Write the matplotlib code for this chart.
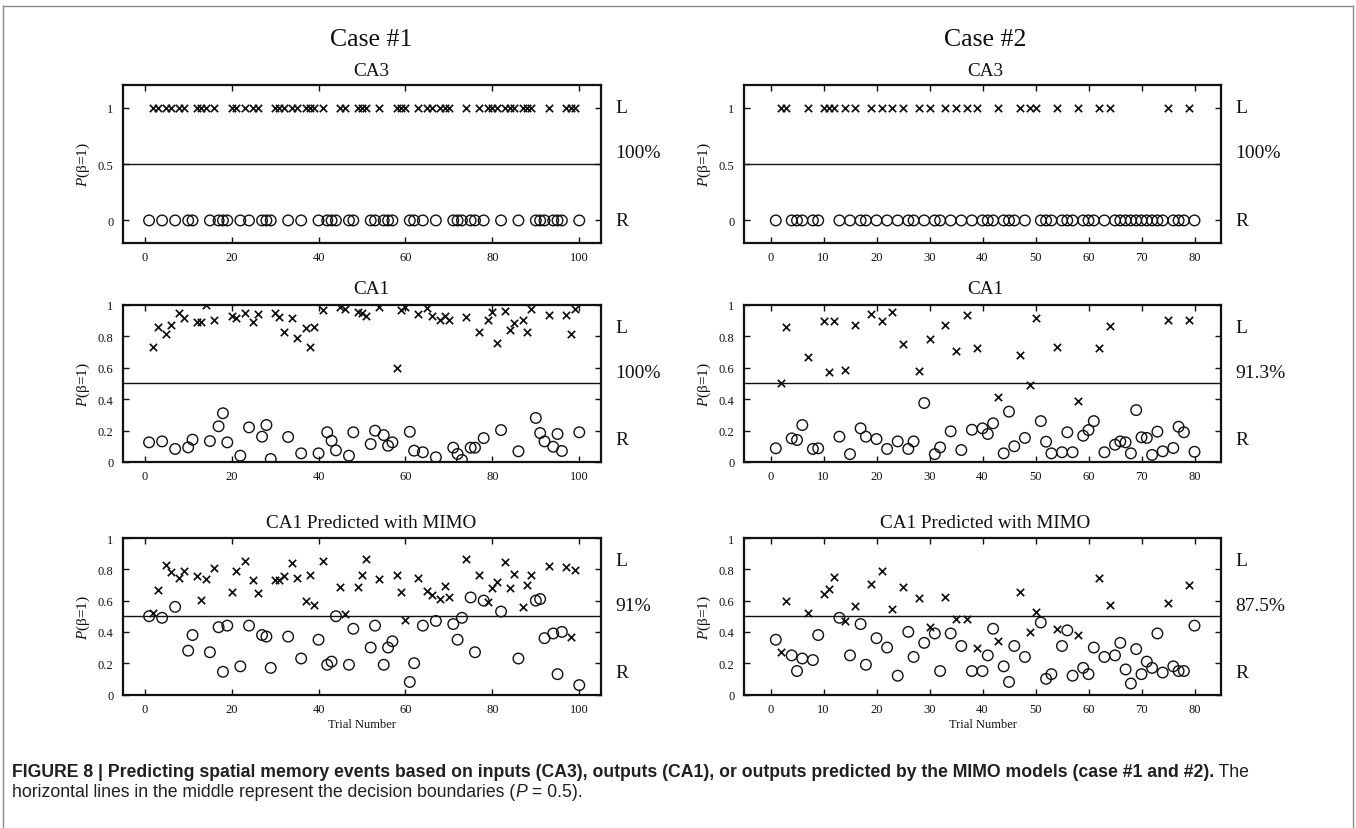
import matplotlib
matplotlib.use('Agg')
import matplotlib.pyplot as plt
from matplotlib.lines import Line2D

plt.rcParams['font.family'] = ['Liberation Serif', 'DejaVu Serif']
plt.rcParams['mathtext.fontset'] = 'custom'
plt.rcParams['mathtext.rm'] = 'Liberation Serif'
plt.rcParams['mathtext.it'] = 'Liberation Serif:italic'

# ---------------- data ----------------
c1_L_trials = [2, 3, 5, 6, 8, 9, 12, 13, 14, 16, 20, 21, 23, 25, 26, 30, 31, 32, 34, 35, 37, 38, 39, 41,
               45, 46, 49, 50, 51, 54, 58, 59, 60, 63, 65, 66, 68, 69, 70, 74, 77, 79, 80, 81, 83, 84,
               85, 87, 88, 89, 93, 97, 98, 99]
c1_R_trials = [1, 4, 7, 10, 11, 15, 17, 18, 19, 22, 24, 27, 28, 29, 33, 36, 40, 42, 43, 44, 47, 48, 52,
               53, 55, 56, 57, 61, 62, 64, 67, 71, 72, 73, 75, 76, 78, 82, 86, 90, 91, 92, 94, 95, 96, 100]
c1_ca1_L = [0.73, 0.86, 0.815, 0.87, 0.95, 0.915, 0.89, 0.89, 0.995, 0.905, 0.93, 0.915, 0.945, 0.89,
            0.94, 0.945, 0.92, 0.825, 0.915, 0.79, 0.855, 0.73, 0.86, 0.965, 0.985, 0.975, 0.955, 0.945,
            0.93, 0.985, 0.6, 0.965, 0.985, 0.94, 0.98, 0.925, 0.905, 0.93, 0.9, 0.92, 0.825, 0.905,
            0.955, 0.755, 0.96, 0.84, 0.885, 0.905, 0.825, 0.97, 0.935, 0.935, 0.815, 0.975]
c1_ca1_R = [0.125, 0.131, 0.083, 0.093, 0.142, 0.133, 0.227, 0.31, 0.125, 0.04, 0.22, 0.161, 0.235,
            0.019, 0.159, 0.055, 0.055, 0.189, 0.135, 0.074, 0.04, 0.189, 0.114, 0.199, 0.171, 0.103,
            0.125, 0.192, 0.072, 0.062, 0.03, 0.091, 0.051, 0.013, 0.091, 0.091, 0.152, 0.203, 0.068,
            0.28, 0.184, 0.131, 0.097, 0.178, 0.07, 0.189]
c1_mimo_L = [0.52, 0.668, 0.83, 0.78, 0.742, 0.787, 0.759, 0.604, 0.736, 0.808, 0.657, 0.791, 0.855,
             0.734, 0.647, 0.734, 0.734, 0.755, 0.84, 0.742, 0.60, 0.766, 0.574, 0.855, 0.689, 0.517,
             0.689, 0.764, 0.866, 0.738, 0.764, 0.653, 0.474, 0.744, 0.663, 0.638, 0.61, 0.695, 0.625,
             0.866, 0.766, 0.589, 0.678, 0.717, 0.849, 0.678, 0.77, 0.557, 0.70, 0.764, 0.823, 0.817,
             0.37, 0.795]
c1_mimo_R = [0.50, 0.49, 0.56, 0.28, 0.38, 0.27, 0.43, 0.145, 0.44, 0.18, 0.44, 0.38, 0.37, 0.17, 0.37,
             0.23, 0.35, 0.19, 0.21, 0.50, 0.19, 0.42, 0.30, 0.44, 0.19, 0.30, 0.34, 0.08, 0.20, 0.44,
             0.47, 0.45, 0.35, 0.49, 0.62, 0.27, 0.60, 0.53, 0.23, 0.60, 0.61, 0.36, 0.39, 0.13, 0.40,
             0.06]

c2_L_trials = [2, 3, 7, 10, 11, 12, 14, 16, 19, 21, 23, 25, 28, 30, 33, 35, 37, 39, 43, 47, 49, 50, 54,
               58, 62, 64, 75, 79]
c2_R_trials = [1, 4, 5, 6, 8, 9, 13, 15, 17, 18, 20, 22, 24, 26, 27, 29, 31, 32, 34, 36, 38, 40, 41, 42,
               44, 45, 46, 48, 51, 52, 53, 55, 56, 57, 59, 60, 61, 63, 65, 66, 67, 68, 69, 70, 71, 72,
               73, 74, 76, 77, 78, 80]
c2_ca1_L = [0.50, 0.86, 0.665, 0.898, 0.574, 0.894, 0.585, 0.871, 0.941, 0.898, 0.951, 0.75, 0.577,
            0.782, 0.873, 0.708, 0.935, 0.725, 0.411, 0.682, 0.49, 0.915, 0.733, 0.386, 0.723, 0.867,
            0.903, 0.903]
c2_ca1_R = [0.087, 0.15, 0.14, 0.235, 0.083, 0.087, 0.161, 0.05, 0.214, 0.161, 0.146, 0.083, 0.131,
            0.083, 0.131, 0.375, 0.05, 0.093, 0.195, 0.076, 0.205, 0.214, 0.178, 0.246, 0.055, 0.32,
            0.1, 0.153, 0.26, 0.129, 0.055, 0.062, 0.189, 0.062, 0.167, 0.203, 0.26, 0.062, 0.11,
            0.131, 0.125, 0.055, 0.33, 0.157, 0.153, 0.045, 0.193, 0.068, 0.089, 0.224, 0.189, 0.065]
c2_mimo_L = [0.27, 0.60, 0.52, 0.642, 0.674, 0.753, 0.47, 0.567, 0.706, 0.791, 0.546, 0.685, 0.617,
             0.43, 0.621, 0.48, 0.48, 0.30, 0.34, 0.657, 0.40, 0.53, 0.42, 0.38, 0.744, 0.572, 0.583,
             0.70]
c2_mimo_R = [0.35, 0.25, 0.15, 0.23, 0.22, 0.38, 0.49, 0.25, 0.45, 0.19, 0.36, 0.30, 0.12, 0.40, 0.24,
             0.33, 0.39, 0.15, 0.39, 0.31, 0.15, 0.15, 0.25, 0.42, 0.18, 0.08, 0.31, 0.24, 0.46, 0.10,
             0.13, 0.31, 0.41, 0.12, 0.17, 0.13, 0.30, 0.24, 0.25, 0.33, 0.16, 0.07, 0.29, 0.13, 0.21,
             0.17, 0.39, 0.14, 0.18, 0.15, 0.15, 0.44]

case_titles = ['Case #1', 'Case #2']
row_titles = ['CA3', 'CA1', 'CA1 Predicted with MIMO']
percent_labels = [['100%', '100%', '91%'], ['100%', '91.3%', '87.5%']]
x_ticks = [[0, 20, 40, 60, 80, 100], [0, 10, 20, 30, 40, 50, 60, 70, 80]]
x_limits = [(-5, 105), (-5, 85)]

# ---------------- layout (pixels) ----------------
W, H = 1356, 829
fig = plt.figure(figsize=(W / 100, H / 100), dpi=100)


def fx(px):
    return px / W


def fy(py):
    return 1 - py / H


col_x = [(123, 601), (744, 1221)]
title_cx = [371, 985]
row_y = [(86, 244), (305.7, 463), (539, 695.5)]
title_y = [71, 289.5, 523.5]

ink = '#111111'
cases = [
    (c1_L_trials, c1_R_trials, [[1] * len(c1_L_trials), c1_ca1_L, c1_mimo_L],
     [[0] * len(c1_R_trials), c1_ca1_R, c1_mimo_R]),
    (c2_L_trials, c2_R_trials, [[1] * len(c2_L_trials), c2_ca1_L, c2_mimo_L],
     [[0] * len(c2_R_trials), c2_ca1_R, c2_mimo_R]),
]

for ci, (Lt, Rt, Lvals, Rvals) in enumerate(cases):
    x0, x1 = col_x[ci]
    fig.text(fx(title_cx[ci]), fy(40), case_titles[ci], ha='center', va='center',
             fontsize=18.5, color=ink)
    for ri in range(3):
        y0, y1 = row_y[ri]
        ax = fig.add_axes([fx(x0), fy(y1), fx(x1) - fx(x0), (y1 - y0) / H])
        ax.scatter(Lt, Lvals[ri], marker='x', s=28, linewidths=1.25, color=ink, zorder=3)
        ax.scatter(Rt, Rvals[ri], marker='o', s=58, facecolors='none', edgecolors=ink,
                   linewidths=1.0, zorder=3)
        ax.axhline(0.5, color=ink, lw=1.0, zorder=2)
        ax.set_xlim(*x_limits[ci])
        ax.set_xticks(x_ticks[ci])
        if ri == 0:
            ax.set_ylim(-0.2, 1.2)
            ax.set_yticks([0, 0.5, 1])
            ax.set_yticklabels(['0', '0.5', '1'])
        else:
            ax.set_ylim(0, 1)
            ax.set_yticks([0, 0.2, 0.4, 0.6, 0.8, 1])
            ax.set_yticklabels(['0', '0.2', '0.4', '0.6', '0.8', '1'])
        ax.tick_params(direction='in', top=True, right=True, length=4, width=1.0,
                       labelsize=9, colors=ink)
        ax.tick_params(axis='x', pad=6)
        ax.tick_params(axis='y', pad=7)
        for sp in ax.spines.values():
            sp.set_linewidth(1.6)
            sp.set_color(ink)
        ax.set_ylabel('$P$(β=1)', fontsize=11, color=ink, labelpad=4)
        fig.text(fx(title_cx[ci]), fy(title_y[ri]), row_titles[ri],
                 ha='center', va='center', fontsize=13.8, color=ink)
        off = 1 + 14 / (x1 - x0)
        ax.text(off, 6 / 7, 'L', transform=ax.transAxes, ha='left', va='center',
                fontsize=14, color=ink)
        ax.text(off, 4 / 7, percent_labels[ci][ri], transform=ax.transAxes, ha='left',
                va='center', fontsize=14, color=ink)
        ax.text(off, 1 / 7, 'R', transform=ax.transAxes, ha='left', va='center',
                fontsize=14, color=ink)
        if ri == 2:
            fig.text(fx((x0 + x1) / 2), fy(725), 'Trial Number', ha='center', va='center',
                     fontsize=9, color=ink)

# open frame around the figure (top, left, right; runs off the bottom edge)
frame_col = '#8a8a8a'
fig.add_artist(Line2D([fx(2.5), fx(1352.5)], [fy(7), fy(7)], transform=fig.transFigure,
                      color=frame_col, lw=1.0))
fig.add_artist(Line2D([fx(2.5), fx(2.5)], [fy(7), fy(840)], transform=fig.transFigure,
                      color=frame_col, lw=1.0))
fig.add_artist(Line2D([fx(1352.5), fx(1352.5)], [fy(7), fy(840)], transform=fig.transFigure,
                      color=frame_col, lw=1.0))

# caption
cap_font = 'Liberation Sans'
cap_size = 12.7
cap_col = '#231f20'
fig.canvas.draw()
r = fig.canvas.get_renderer()
t1 = fig.text(fx(12), fy(773),
              'FIGURE 8 | Predicting spatial memory events based on inputs (CA3), outputs (CA1), '
              'or outputs predicted by the MIMO models (case #1 and #2).',
              fontfamily=cap_font, fontweight='bold', fontsize=cap_size, va='center', color=cap_col)
bb = t1.get_window_extent(renderer=r)
fig.text(bb.x1 / W, fy(773), ' The', fontfamily=cap_font, fontsize=cap_size, va='center',
         color=cap_col)
parts = [('horizontal lines in the middle represent the decision boundaries (', 'normal'),
         ('P', 'italic'), (' = 0.5).', 'normal')]
xpos = fx(12)
for txt, style in parts:
    t = fig.text(xpos, fy(793), txt, fontfamily=cap_font, fontstyle=style, fontsize=cap_size,
                 va='center', color=cap_col)
    xpos = t.get_window_extent(renderer=r).x1 / W

fig.savefig('out.png', dpi=100)
